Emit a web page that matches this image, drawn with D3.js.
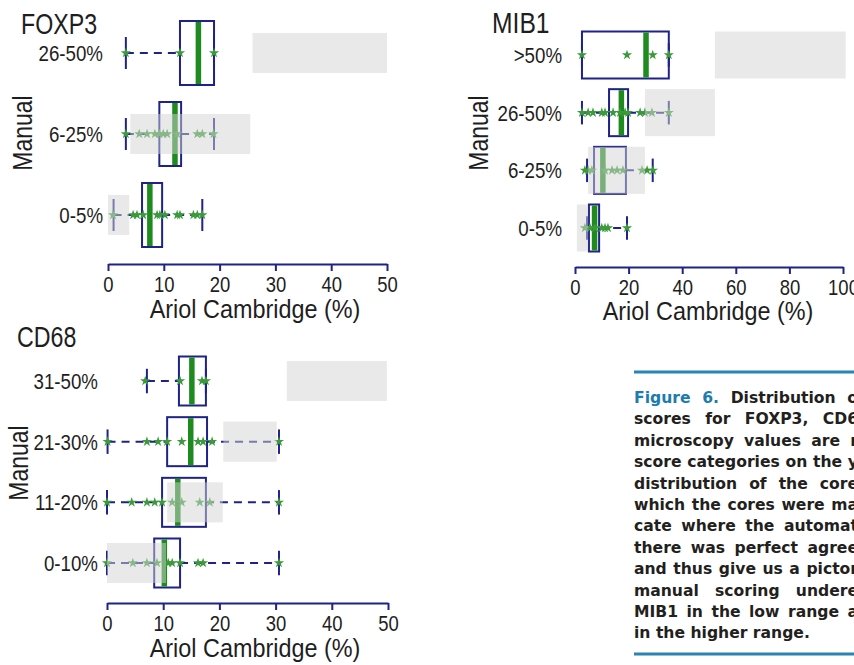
<!DOCTYPE html>
<html>
<head>
<meta charset="utf-8">
<script src="https://cdn.jsdelivr.net/npm/d3@7"></script>
<style>
body { margin: 0; background: #fff; }
svg { display: block; }
</style>
</head>
<body>
<svg width="854" height="665"></svg>
<script>
// stats per row: [whisker low, Q1, median, Q3, whisker high]
var foxCats = ["0-5%", "6-25%", "26-50%"];
var foxBox = [[1.0, 6.1, 7.5, 9.7, 16.9], [3.2, 9.2, 12.0, 13.1, 19.0], [3.2, 12.9, 16.2, 19.0, 19.0]];
var foxBand = [[0, 3.8], [4.0, 25.5], [25.9, 50]];
var foxPts = [
  [0.9, 4.5, 5.2, 6.3, 8.8, 9.3, 10.2, 12.4, 12.9, 15.3, 16.0, 16.9],
  [3.2, 5.6, 7.0, 8.4, 9.2, 9.9, 10.6, 12.4, 16.0, 16.9, 18.9],
  [3.2, 12.9, 19.0]
];

var mibCats = ["0-5%", "6-25%", "26-50%", ">50%"];
var mibBox = [[4.5, 5.2, 7.3, 9.0, 19.4], [4.5, 7.1, 10.4, 19.0, 29.0], [2.6, 12.7, 17.3, 19.8, 35.0], [2.6, 2.6, 26.5, 35.0, 35.0]];
var mibBand = [[0.7, 4.9], [4.9, 26.1], [26.1, 52.2], [52.2, 101]];
var mibPts = [
  [3.7, 5.6, 7.5, 10.0, 11.2, 12.3, 19.4],
  [3.7, 4.9, 6.3, 11.2, 13.8, 15.7, 17.9, 25.0, 26.9, 29.1],
  [2.6, 4.9, 6.7, 10.0, 11.2, 14.2, 16.8, 18.7, 19.8, 24.3, 26.1, 28.7, 35.0],
  [2.6, 19.4, 29.0, 35.0]
];

var cdCats = ["0-10%", "11-20%", "21-30%", "31-50%"];
var cdBox = [[0, 8.4, 10.2, 13.0, 30.6], [0, 9.8, 12.6, 17.6, 30.6], [0.1, 10.7, 14.9, 17.8, 30.6], [7.1, 12.8, 15.1, 17.6, 17.6]];
var cdBand = [[0, 10.5], [10.7, 20.6], [20.7, 30.2], [32, 49.8]];
var cdPts = [
  [0, 4.6, 7.1, 8.9, 10.9, 11.6, 13.0, 16.2, 17.1, 30.6],
  [0, 4.4, 7.1, 8.5, 9.8, 11.6, 13.3, 16.5, 18.3, 30.6],
  [0.1, 7.1, 9.1, 10.7, 13.3, 16.2, 17.1, 18.7, 30.6],
  [6.8, 13.0, 16.9, 17.6]
];

var ticks50 = [0, 10, 20, 30, 40, 50];
var ticks100 = [0, 20, 40, 60, 80, 100];
var xTitle = "Ariol Cambridge (%)";
var yTitle = "Manual";

var captionLines = [
  "Distribution o",
  "scores for FOXP3, CD6",
  "microscopy values are r",
  "score categories on the y",
  "distribution of the core",
  "which the cores were ma",
  "cate where the automat",
  "there was perfect agree",
  "and thus give us a pictor",
  "manual scoring undere",
  "MIB1 in the low range a",
  "in the higher range."
];

var navy = "#1f2388", green = "#1f8a1f", starGreen = "#3c9a3c";
// condensed look: Liberation Sans squeezed horizontally
var chartFont = "'Liberation Sans', Arial, sans-serif";

var svg = d3.select("svg");
svg.append("rect").attr("width", 854).attr("height", 665).attr("fill", "#fff");

function squeezed(parent, x, y, size, sx, txt, anchor, rot) {
  return parent.append("text")
    .attr("transform", "translate(" + x + "," + y + ")" + (rot ? " rotate(" + rot + ")" : "") + " scale(" + sx + ",1)")
    .attr("text-anchor", anchor || "start").attr("fill", "#1e1e1e")
    .style("font-family", chartFont).style("font-size", size + "px")
    .text(txt);
}

function panel(o) {
  var g = svg.append("g");
  var x = d3.scaleLinear().domain(o.xDom).range(o.xRange);
  var y = d3.scalePoint().domain(o.cats).range(o.yRange);
  var h = o.boxH;

  o.cats.forEach(function(c, i) {
    var s = o.box[i], cy = y(c);
    // dashed whiskers
    [[s[0], s[1]], [s[3], s[4]]].forEach(function(w) {
      if (w[1] - w[0] > 0.01) {
        g.append("line").attr("x1", x(w[0])).attr("x2", x(w[1]))
          .attr("y1", cy).attr("y2", cy)
          .attr("stroke", navy).attr("stroke-width", 2).attr("stroke-dasharray", "8,6");
      }
    });
    // staples
    [s[0], s[4]].forEach(function(v) {
      g.append("line").attr("x1", x(v)).attr("x2", x(v))
        .attr("y1", cy - h / 4).attr("y2", cy + h / 4)
        .attr("stroke", navy).attr("stroke-width", 2);
    });
    g.append("rect").attr("x", x(s[1])).attr("y", cy - h / 2)
      .attr("width", x(s[3]) - x(s[1])).attr("height", h)
      .attr("fill", "none").attr("stroke", navy).attr("stroke-width", 2);
    g.append("rect").attr("x", x(s[2]) - 2.75).attr("y", cy - h / 2 + 1)
      .attr("width", 5.5).attr("height", h - 2).attr("fill", green);
    g.selectAll(null).data(o.pts[i]).enter().append("path")
      .attr("d", d3.symbol(d3.symbolStar, 32))
      .attr("transform", function(d) { return "translate(" + x(d) + "," + cy + ")"; })
      .attr("fill", starGreen);
  });

  // grey bands showing the manual range, drawn over the boxes
  o.cats.forEach(function(c, i) {
    var b = o.band[i];
    g.append("rect").attr("x", x(b[0])).attr("y", y(c) - o.bandH / 2)
      .attr("width", x(b[1]) - x(b[0])).attr("height", o.bandH)
      .attr("fill", "#d4d4d4").attr("opacity", 0.5);
  });

  var ax = g.append("g").attr("transform", "translate(0," + o.axisY + ")")
    .call(d3.axisBottom(x).tickValues(o.ticks).tickSize(7).tickSizeOuter(0).tickPadding(5));
  ax.select(".domain").attr("stroke", navy).attr("stroke-width", 2);
  ax.selectAll(".tick line").attr("stroke", navy).attr("stroke-width", 2);
  ax.selectAll(".tick text").attr("fill", "#1e1e1e").attr("transform", "scale(0.84,1)")
    .style("font-family", chartFont).style("font-size", "22px");

  o.cats.forEach(function(c) {
    squeezed(g, o.labelX, y(c) + 8, 22, 0.85, c, "end");
  });

  squeezed(g, o.titleX, o.titleY, 29, o.titleSx, o.title);
  squeezed(g, o.manualX + 10, o.manualY, 28, 0.82, yTitle, "middle", -90);
  squeezed(g, o.xTitleX, o.xTitleY, 26, 0.9, xTitle, "middle");
}

panel({ title: "FOXP3", titleSx: 0.8, cats: foxCats, box: foxBox, band: foxBand, pts: foxPts, ticks: ticks50,
  xDom: [0, 50], xRange: [108, 387], yRange: [215, 53], boxH: 64, bandH: 40, axisY: 264,
  titleX: 21, titleY: 34, labelX: 103, manualX: 22, manualY: 133, xTitleX: 255, xTitleY: 318 });

panel({ title: "MIB1", titleSx: 0.85, cats: mibCats, box: mibBox, band: mibBand, pts: mibPts, ticks: ticks100,
  xDom: [0, 100], xRange: [575, 843], yRange: [228, 55], boxH: 47, bandH: 47, axisY: 267,
  titleX: 492, titleY: 33, labelX: 562, manualX: 478, manualY: 133, xTitleX: 708, xTitleY: 320 });

panel({ title: "CD68", titleSx: 0.8, cats: cdCats, box: cdBox, band: cdBand, pts: cdPts, ticks: ticks50,
  xDom: [0, 50], xRange: [107, 388], yRange: [563, 381], boxH: 49, bandH: 40, axisY: 603,
  titleX: 17, titleY: 347, labelX: 98, manualX: 18, manualY: 463, xTitleX: 255, xTitleY: 657 });

// caption block at right
var cap = svg.append("g");
var capFont = "'DejaVu Sans', sans-serif";
cap.append("line").attr("x1", 634).attr("x2", 854).attr("y1", 372).attr("y2", 372)
  .attr("stroke", "#2a83b2").attr("stroke-width", 3);
cap.append("line").attr("x1", 634).attr("x2", 854).attr("y1", 654).attr("y2", 654)
  .attr("stroke", "#2a83b2").attr("stroke-width", 3);

captionLines.forEach(function(line, i) {
  var t = cap.append("text").attr("x", 634).attr("y", 403 + i * 21.4)
    .attr("fill", "#231f20").style("font-family", capFont)
    .style("font-size", "15.6px").style("font-weight", "bold");
  if (i === 0) {
    t.append("tspan").attr("fill", "#1d7cae").text("Figure 6. ");
  }
  t.append("tspan").text(line);
  if (i < captionLines.length - 1) {
    var full = (i === 0 ? "Figure 6. " : "") + line;
    var spaces = full.split(" ").length - 1;
    var natural = t.node().getComputedTextLength();
    var extra = (858 - 634 - natural) / Math.max(spaces, 1);
    t.style("word-spacing", extra + "px");
  }
});
</script>
</body>
</html>
